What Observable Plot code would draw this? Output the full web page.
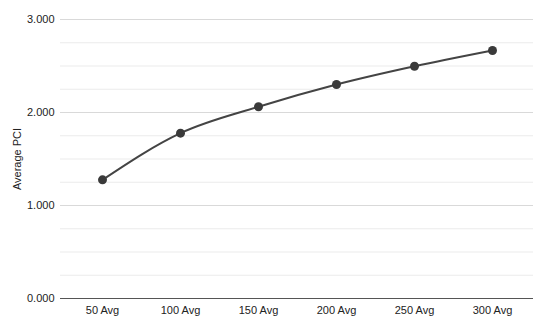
<!DOCTYPE html>
<html><head><meta charset="utf-8">
<script src="https://cdn.jsdelivr.net/npm/d3@7"></script>
<script src="https://cdn.jsdelivr.net/npm/@observablehq/plot@0.6"></script>
<style>body{margin:0;background:#fff;font-family:Arial,"Liberation Sans",sans-serif;}</style>
</head><body><div id="chart"></div>
<script>
const categories = ["50 Avg","100 Avg","150 Avg","200 Avg","250 Avg","300 Avg"];
const values = [1.276, 1.778, 2.062, 2.301, 2.497, 2.667];
const majorTicks = [0, 1, 2, 3];
const minorTicks = [0.25,0.5,0.75,1.25,1.5,1.75,2.25,2.5,2.75];
const data = categories.map((c,i)=>({cat:c, v:values[i]}));

const chart = Plot.plot({
  width: 550, height: 325,
  marginLeft: 60, marginRight: 17, marginTop: 19, marginBottom: 27,
  style: {fontFamily: "Arial, 'Liberation Sans', sans-serif", fontSize: "11px", color: "#222"},
  x: {type: "point", domain: categories, padding: 0.5, label: null},
  y: {domain: [0, 3], label: "Average PCI"},
  marks: [
    Plot.gridY(minorTicks, {stroke: "#ebebeb", strokeOpacity: 1, strokeWidth: 1}),
    Plot.gridY(majorTicks, {stroke: "#d9d9d9", strokeOpacity: 1, strokeWidth: 1.2}),
    Plot.ruleY([0], {stroke: "#555", strokeWidth: 1.2}),
    Plot.axisY(majorTicks, {tickSize: 0, tickPadding: 6, tickFormat: d3.format(".3f"), fontSize: 11, fill: "#222", label: "Average PCI", labelAnchor: "center", labelArrow: "none", labelOffset: 47}),
    Plot.axisX({tickSize: 0, tickPadding: 8, fontSize: 11, fill: "#222", label: null}),
    Plot.line(data, {x: "cat", y: "v", stroke: "#444", strokeWidth: 2, curve: "monotone-x"}),
    Plot.dot(data, {x: "cat", y: "v", r: 4.5, fill: "#3a3a3a", stroke: "none"})
  ]
});
document.getElementById("chart").append(chart);
</script></body></html>
